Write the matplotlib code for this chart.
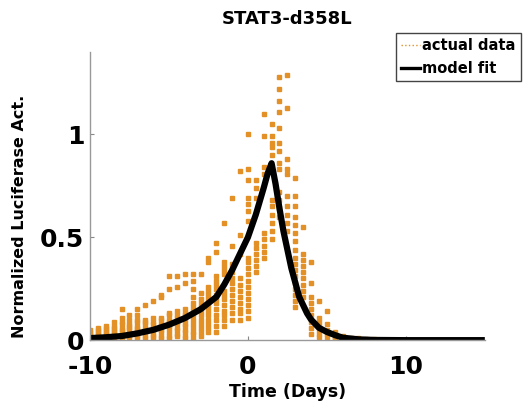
import matplotlib
matplotlib.use("Agg")
import matplotlib.pyplot as plt
from matplotlib.lines import Line2D

plt.rcParams["axes.unicode_minus"] = False

# measured luciferase activity, one list of replicate readings per sampling day
days = [-10, -9.5, -9, -8.5, -8, -7.5, -7, -6.5, -6, -5.5, -5, -4.5, -4, -3.5,
        -3, -2.5, -2, -1.5, -1, -0.5, 0, 0.5, 1, 1.5, 2, 2.5, 3, 3.5, 4, 4.5,
        5, 5.5, 6, 6.5, 7, 7.5, 8]
readings = [
    [0.0, 0.01, 0.02, 0.03, 0.04, 0.05],
    [0.0, 0.01, 0.02, 0.03, 0.04, 0.05, 0.06],
    [0.0, 0.01, 0.02, 0.03, 0.04, 0.05, 0.06, 0.07],
    [0.01, 0.02, 0.03, 0.04, 0.05, 0.06, 0.07, 0.09],
    [0.01, 0.02, 0.04, 0.05, 0.06, 0.08, 0.09, 0.11, 0.15],
    [0.01, 0.02, 0.03, 0.05, 0.06, 0.07, 0.08, 0.10, 0.12],
    [0.01, 0.02, 0.03, 0.05, 0.06, 0.07, 0.09, 0.10, 0.12, 0.15],
    [0.01, 0.02, 0.04, 0.05, 0.06, 0.08, 0.09, 0.10, 0.17],
    [0.01, 0.02, 0.03, 0.05, 0.06, 0.08, 0.09, 0.11, 0.19],
    [0.01, 0.02, 0.04, 0.05, 0.07, 0.08, 0.10, 0.11, 0.21, 0.22],
    [0.01, 0.02, 0.04, 0.06, 0.07, 0.09, 0.10, 0.12, 0.13, 0.25, 0.31],
    [0.02, 0.03, 0.05, 0.06, 0.08, 0.09, 0.11, 0.12, 0.14, 0.26, 0.31],
    [0.01, 0.02, 0.04, 0.05, 0.07, 0.08, 0.10, 0.12, 0.13, 0.15, 0.28, 0.32],
    [0.01, 0.03, 0.04, 0.06, 0.08, 0.10, 0.12, 0.14, 0.16, 0.18, 0.21, 0.25, 0.29, 0.32],
    [0.02, 0.04, 0.06, 0.08, 0.10, 0.12, 0.14, 0.16, 0.18, 0.20, 0.23, 0.32],
    [0.04, 0.06, 0.08, 0.10, 0.12, 0.14, 0.16, 0.18, 0.20, 0.22, 0.24, 0.26, 0.38, 0.40],
    [0.04, 0.07, 0.10, 0.12, 0.15, 0.18, 0.20, 0.22, 0.25, 0.27, 0.29, 0.31, 0.43, 0.47],
    [0.07, 0.10, 0.12, 0.14, 0.17, 0.20, 0.22, 0.24, 0.32, 0.34, 0.36, 0.38, 0.57],
    [0.10, 0.13, 0.16, 0.19, 0.22, 0.25, 0.28, 0.30, 0.33, 0.35, 0.37, 0.46, 0.69],
    [0.10, 0.13, 0.15, 0.18, 0.21, 0.24, 0.27, 0.30, 0.42, 0.51, 0.82],
    [0.11, 0.14, 0.17, 0.20, 0.23, 0.26, 0.29, 0.32, 0.35, 0.38, 0.40, 0.58,
     0.63, 0.66, 0.69, 0.78, 0.83, 1.0],
    [0.33, 0.36, 0.39, 0.42, 0.45, 0.47, 0.69, 0.74, 0.78],
    [0.40, 0.43, 0.46, 0.49, 0.52, 0.81, 0.84, 0.99, 1.10],
    [0.49, 0.53, 0.57, 0.61, 0.65, 0.68, 0.90, 0.94, 0.96, 0.99, 1.05],
    [0.60, 0.64, 0.68, 0.72, 0.83, 0.86, 0.92, 0.96, 1.03, 1.11, 1.16, 1.22, 1.28],
    [0.53, 0.57, 0.61, 0.65, 0.70, 0.81, 0.83, 0.88, 1.13, 1.29],
    [0.16, 0.19, 0.22, 0.25, 0.28, 0.31, 0.34, 0.37, 0.40, 0.44, 0.48, 0.52,
     0.56, 0.60, 0.65, 0.70, 0.79],
    [0.21, 0.24, 0.27, 0.30, 0.33, 0.36, 0.39, 0.42, 0.55],
    [0.03, 0.06, 0.09, 0.12, 0.15, 0.18, 0.21, 0.28, 0.38],
    [0.015, 0.03, 0.05, 0.07, 0.09, 0.11, 0.19],
    [0.015, 0.03, 0.05, 0.08, 0.14],
    [0.005, 0.01, 0.02, 0.03, 0.04],
    [0.0, 0.005, 0.01, 0.02],
    [0.0, 0.005, 0.01],
    [0.0, 0.005, 0.01],
    [0.0, 0.005],
    [0.0, 0.005],
]

# fitted model curve
fit_days = [-10, -9, -8, -7, -6, -5, -4, -3, -2.5, -2, -1.5, -1, -0.5, 0, 0.5,
            1, 1.25, 1.5, 1.75, 2, 2.25, 2.5, 2.75, 3, 3.25, 3.5, 3.75, 4, 4.5,
            5, 5.5, 6, 7, 8, 10, 15]
fit_vals = [0.01, 0.014, 0.02, 0.033, 0.05, 0.075, 0.107, 0.15, 0.18, 0.21,
            0.27, 0.34, 0.42, 0.50, 0.61, 0.74, 0.81, 0.86, 0.76, 0.64, 0.53,
            0.44, 0.35, 0.28, 0.21, 0.17, 0.13, 0.10, 0.06, 0.04, 0.025, 0.012,
            0.004, 0.001, 0.0, 0.0]

ORANGE = "#E39127"

fig = plt.figure(figsize=(5.23, 4.04), dpi=100)
ax = fig.add_axes([0.172, 0.158, 0.755, 0.713])

xs, ys = [], []
for d, vals in zip(days, readings):
    xs += [d] * len(vals)
    ys += vals
ax.plot(xs, ys, ls="none", marker="s", ms=2.6, color=ORANGE, mec=ORANGE)
ax.plot(fit_days, fit_vals, color="black", lw=4.5, solid_capstyle="butt",
        solid_joinstyle="round")

ax.set_xlim(-10, 15)
ax.set_ylim(0, 1.4)
ax.set_xticks([-10, 0, 10])
ax.set_yticks([0, 0.5, 1])
ax.set_yticklabels(["0", "0.5", "1"])
ax.tick_params(direction="in", length=3, width=0.8, color="#888888",
               labelsize=18)
ax.tick_params(axis="x", pad=10.5)
ax.tick_params(axis="y", pad=4)
for lbl in ax.get_xticklabels() + ax.get_yticklabels():
    lbl.set_fontweight("bold")
for s in ("top", "right"):
    ax.spines[s].set_visible(False)
for s in ("left", "bottom"):
    ax.spines[s].set_color("#999999")
    ax.spines[s].set_linewidth(1.0)

ax.set_xlabel("Time (Days)", fontsize=12.5, fontweight="bold")
ax.xaxis.set_label_coords(0.5, -0.15)
ax.set_ylabel("Normalized Luciferase Act.", fontsize=11.5, fontweight="bold")
ax.yaxis.set_label_coords(-0.16, 0.43)
ax.set_title("STAT3-d358L", fontsize=13, fontweight="bold", pad=20)

handles = [Line2D([], [], color=ORANGE, ls=":", lw=1.0),
           Line2D([], [], color="black", lw=2.4)]
leg = fig.legend(handles, ["actual data", "model fit"], loc="upper right",
                 bbox_to_anchor=(0.996, 0.918),
                 prop={"weight": "bold", "size": 10.5}, fancybox=False,
                 framealpha=1, edgecolor="#444444", handlelength=1.3,
                 handletextpad=0.15, borderpad=0.35, labelspacing=0.55,
                 borderaxespad=0)
leg.get_frame().set_linewidth(1.0)

fig.savefig("out.png", dpi=100)
